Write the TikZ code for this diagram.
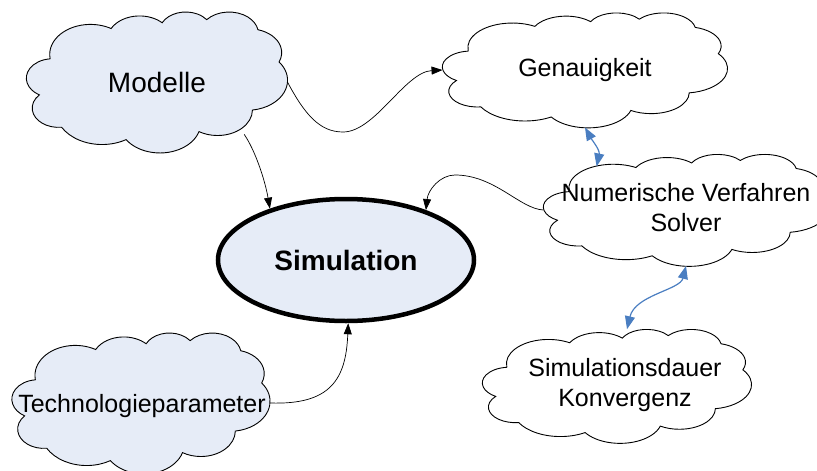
\documentclass[tikz,border=0pt]{standalone}
\usepackage{fontspec}
\setmainfont{Liberation Sans}
\usetikzlibrary{shapes.geometric,arrows.meta}
\definecolor{paleblue}{RGB}{230,236,247}
\definecolor{linkblue}{RGB}{74,126,193}

\makeatletter
% Cloud outline: eleven elliptical puffs in a 432 x 432 grid (y downwards).
% Arc angles are given as visual angles and turned into parametric ones here.
\newcommand\cloudangles[5]{%
  \pgfmathsetmacro\oc@a{atan2(#2*sin(#4), #3*cos(#4))}%
  \pgfmathsetmacro\oc@b{atan2(#2*sin(#4+#5), #3*cos(#4+#5))}%
  \pgfmathsetmacro\oc@b{\oc@b+360*round((\oc@a+#5-\oc@b)/360)}%
  \pgfmathsetmacro\oc@a{0-(\oc@a)}%
  \pgfmathsetmacro\oc@b{0-(\oc@b)}%
  \expandafter\xdef\csname ocs#1\endcsname{\oc@a}%
  \expandafter\xdef\csname oce#1\endcsname{\oc@b}%
}
\cloudangles{A}{67.53}{91.90}{-190.4875}{123.7805}
\cloudangles{B}{53.33}{72.67}{-144.1024}{89.9452}
\cloudangles{C}{43.65}{59.45}{-145.8079}{99.7230}
\cloudangles{D}{48.57}{65.95}{-130.9861}{117.2417}
\cloudangles{E}{53.33}{72.73}{-78.7089}{109.0269}
\cloudangles{F}{67.75}{92.20}{-46.2673}{130.2690}
\cloudangles{G}{57.85}{78.67}{0.6250}{114.0333}
\cloudangles{H}{67.52}{92.15}{22.4516}{115.1726}
\cloudangles{I}{77.20}{105.43}{66.2426}{75.7110}
\cloudangles{J}{43.60}{59.18}{-274.9421}{146.7356}
\cloudangles{K}{43.45}{59.45}{-246.8285}{152.5189}

\def\oc@arc#1#2#3{%
  \edef\oc@s{\csname ocs#1\endcsname}%
  \edef\oc@e{\csname oce#1\endcsname}%
  \pgfpatharc{\oc@s}{\oc@e}{#2*\oc@sx pt and #3*\oc@sy pt}}

\pgfdeclareshape{puffcloud}{%
  \inheritsavedanchors[from=ellipse]
  \inheritanchorborder[from=ellipse]
  \inheritanchor[from=ellipse]{center}
  \inheritanchor[from=ellipse]{north}
  \inheritanchor[from=ellipse]{south}
  \inheritanchor[from=ellipse]{east}
  \inheritanchor[from=ellipse]{west}
  \inheritanchor[from=ellipse]{north east}
  \inheritanchor[from=ellipse]{north west}
  \inheritanchor[from=ellipse]{south east}
  \inheritanchor[from=ellipse]{south west}
  \backgroundpath{%
    \radius
    \edef\oc@rx{\the\pgf@x}\edef\oc@ry{\the\pgf@y}%
    \centerpoint
    \edef\oc@cx{\the\pgf@x}\edef\oc@cy{\the\pgf@y}%
    \pgfmathsetmacro\oc@sx{\oc@rx/216}%
    \pgfmathsetmacro\oc@sy{\oc@ry/216}%
    \pgfmathsetmacro\oc@ox{\oc@cx-\oc@rx}%
    \pgfmathsetmacro\oc@oy{\oc@cy+\oc@ry}%
    \pgfpathmoveto{\pgfpoint{\oc@ox pt+39*\oc@sx pt}{\oc@oy pt-143.7*\oc@sy pt}}%
    \oc@arc{A}{67.53}{91.90}%
    \oc@arc{B}{53.33}{72.67}%
    \oc@arc{C}{43.65}{59.45}%
    \oc@arc{D}{48.57}{65.95}%
    \oc@arc{E}{53.33}{72.73}%
    \oc@arc{F}{67.75}{92.20}%
    \oc@arc{G}{57.85}{78.67}%
    \oc@arc{H}{67.52}{92.15}%
    \oc@arc{I}{77.20}{105.43}%
    \oc@arc{J}{43.60}{59.18}%
    \oc@arc{K}{43.45}{59.45}%
    \pgfpathclose
  }%
}
\makeatother

\begin{document}
\begin{tikzpicture}[x=1pt,y=-1pt,
  cloudbox/.style={puffcloud, draw=black, line width=0.9pt, inner sep=0pt},
  label25/.style={font=\fontsize{25}{30}\selectfont, align=center, inner sep=0pt},
  flow/.style={line width=0.7pt, -{Triangle[length=11pt,width=8pt]}},
  link/.style={draw=linkblue, line width=1.2pt,
    {Triangle[length=13pt,width=10pt]}-{Triangle[length=13pt,width=10pt]}}]
\useasboundingbox (0,0) rectangle (817,471);

% clouds
\node[cloudbox, fill=paleblue, minimum width=260pt, minimum height=140pt] (mod) at (157,82) {};
\node[cloudbox, fill=white, minimum width=284pt, minimum height=114pt] (gen) at (585,70) {};
\node[cloudbox, fill=white, minimum width=284pt, minimum height=111pt] (num) at (686,210) {};
\node[cloudbox, fill=white, minimum width=268pt, minimum height=113pt] (dur) at (617,386) {};
\node[cloudbox, fill=paleblue, minimum width=257pt, minimum height=140pt] (tech) at (141,403) {};

% central ellipse
\node[ellipse, draw=black, line width=4.5pt, fill=paleblue,
  minimum width=256pt, minimum height=122pt, inner sep=0pt] (sim) at (346,260) {};

% texts
\node[font=\fontsize{28}{32}\selectfont, inner sep=0pt] (modt) at (157,82) {Modelle};
\node[label25] (gent) at (585,70) {Genauigkeit};
\node[label25] (numt) at (686,208) {Numerische Verfahren\\Solver};
\node[label25] (durt) at (625,385) {Simulationsdauer\\Konvergenz};
\node[label25] (techt) at (142,406) {Technologieparameter};
\node[font=\fontsize{28}{32}\selectfont\bfseries, inner sep=0pt] (simt) at (346,260) {Simulation};

% connectors
\draw[flow] (mod.east) .. controls (305,115) and (320,132) .. (343,132)
  .. controls (375,132) and (405,72) .. (gen.west);
\draw[flow] (mod.-31) .. controls (255,150) and (265,180) .. (sim.146);
\draw[flow] (num.west) .. controls (520,209) and (495,175) .. (455,175)
  .. controls (440,175) and (428,190) .. (sim.32);
\draw[flow] (tech.east) .. controls (330,405) and (346,380) .. (sim.-88);
\draw[link] (gen.south) .. controls (592,140) and (600,150) .. (num.154);
\draw[link] (num.south) .. controls (680,290) and (635,295) .. (dur.80);
\end{tikzpicture}
\end{document}
